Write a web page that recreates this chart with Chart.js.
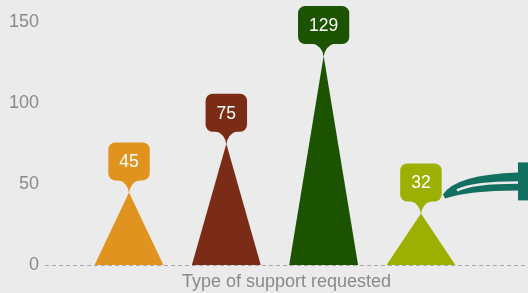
<!DOCTYPE html>
<html>
<head>
<meta charset="utf-8">
<script src="https://cdn.jsdelivr.net/npm/chart.js@4/dist/chart.umd.min.js"></script>
<style>
  html, body { margin: 0; padding: 0; background: #ebebeb; }
  #wrap { width: 528px; height: 293px; position: relative; }
</style>
</head>
<body>
<div id="wrap"><canvas id="c"></canvas></div>
<script>
// ---- data ----
const categories = ['Support type 1', 'Support type 2', 'Support type 3', 'Support type 4'];
const values = [45, 75, 129, 32];
const colors = ['#e0931f', '#7a2c17', '#1b5300', '#9bb000'];
const yTicks = [0, 50, 100, 150];
const axisTitle = 'Type of support requested';

const FONT = "'Liberation Sans', Arial, Helvetica, sans-serif";

const trianglePlugin = {
  id: 'triangles',
  afterDatasetsDraw(chart) {
    const ctx = chart.ctx;
    const meta = chart.getDatasetMeta(0);
    meta.data.forEach((el, i) => {
      const p = el.getProps(['x', 'y', 'base', 'width'], true);
      const col = colors[i];
      ctx.save();
      // triangle
      ctx.fillStyle = col;
      ctx.beginPath();
      ctx.moveTo(p.x - p.width / 2, p.base);
      ctx.lineTo(p.x, p.y);
      ctx.lineTo(p.x + p.width / 2, p.base);
      ctx.closePath();
      ctx.fill();
      // bubble label
      ctx.font = '17.5px ' + FONT;
      const txt = String(values[i]);
      const tw = ctx.measureText(txt).width;
      const bw = tw + 22, bh = 38, r = 7;
      const bb = p.y - 12, bt = bb - bh;
      const bl = p.x - bw / 2;
      ctx.beginPath();
      ctx.roundRect(bl, bt, bw, bh, r);
      ctx.fill();
      ctx.beginPath();
      ctx.moveTo(p.x - 12, bb - 1);
      ctx.quadraticCurveTo(p.x - 1, bb + 2, p.x, p.y + 1);
      ctx.quadraticCurveTo(p.x + 1, bb + 2, p.x + 12, bb - 1);
      ctx.closePath();
      ctx.fill();
      ctx.fillStyle = '#ffffff';
      ctx.textAlign = 'center';
      ctx.textBaseline = 'middle';
      ctx.fillText(txt, p.x, bt + bh / 2 + 1);
      ctx.restore();
    });
  },
  afterDraw(chart) {
    // decorative teal swoosh at the right edge
    const ctx = chart.ctx;
    const R = chart.chartArea.right;
    const B = chart.scales.y.getPixelForValue(0);
    ctx.save();
    ctx.fillStyle = '#127060';
    ctx.beginPath();
    ctx.moveTo(R - 85, B - 71);
    ctx.quadraticCurveTo(R - 72, B - 91, R - 10, B - 93);
    ctx.lineTo(R - 10, B - 75);
    ctx.quadraticCurveTo(R - 60, B - 75, R - 83, B - 67);
    ctx.closePath();
    ctx.fill();
    ctx.strokeStyle = '#ebebeb';
    ctx.lineWidth = 2.5;
    ctx.beginPath();
    ctx.moveTo(R - 71, B - 75);
    ctx.quadraticCurveTo(R - 56, B - 83, R - 10, B - 83);
    ctx.stroke();
    ctx.fillRect(R - 10, B - 103, 10, 38);
    ctx.restore();
  }
};

new Chart(document.getElementById('c'), {
  type: 'bar',
  data: {
    datasets: [{
      label: 'Requests',
      data: values.map((v, i) => ({ x: i + 1, y: v, name: categories[i] })),
      backgroundColor: 'rgba(0,0,0,0)',
      borderWidth: 0,
      barPercentage: 1,
      categoryPercentage: 0.82
    }]
  },
  options: {
    responsive: true,
    maintainAspectRatio: false,
    animation: false,
    layout: { padding: { left: 3, right: 0, top: 22, bottom: 0 } },
    plugins: { legend: { display: false }, tooltip: { enabled: false } },
    scales: {
      x: {
        type: 'linear',
        offset: false,
        min: 0.137,
        max: 5.1,
        grid: { display: false, drawTicks: false, offset: false },
        border: { display: false },
        ticks: { display: false },
        title: {
          display: true,
          text: axisTitle,
          color: '#8a8a8a',
          font: { family: FONT, size: 18 },
          padding: { top: 6, bottom: 0 }
        }
      },
      y: {
        min: 0,
        max: 150,
        afterBuildTicks(scale) { scale.ticks = yTicks.map(v => ({ value: v })); },
        grid: {
          drawTicks: false,
          color: (c) => (c.tick && c.tick.value === 0) ? '#a8a8a8' : 'rgba(0,0,0,0)',
          lineWidth: 1
        },
        border: { display: false, dash: [4, 3] },
        ticks: {
          color: '#8a8a8a',
          font: { family: FONT, size: 18 },
          padding: 6
        }
      }
    }
  },
  plugins: [trianglePlugin]
});
</script>
</body>
</html>
